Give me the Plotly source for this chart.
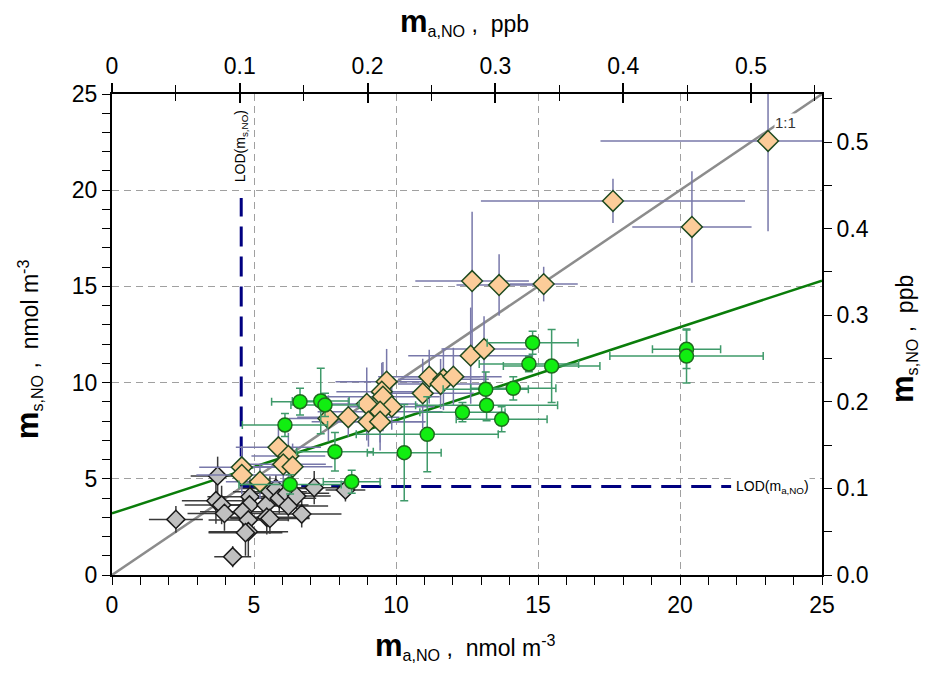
import plotly.graph_objects as go

# ---------------- data ----------------
# orange diamonds (above LOD, near 1:1)
orange_x = [23.1, 17.64, 20.42, 12.68, 13.63, 15.2, 12.63, 13.1, 11.17, 11.67, 11.57, 12.02, 10.94,
            9.67, 9.5, 9.54, 8.97, 9.85, 9.44, 9.03, 9.44, 7.62, 8.32, 5.86, 6.21, 6.03, 6.36,
            4.57, 4.57, 5.21]
orange_y = [22.56, 19.44, 18.09, 15.28, 15.07, 15.12, 11.4, 11.75, 10.31, 10.17, 9.93, 10.31, 9.44,
            10.05, 9.53, 9.27, 8.89, 8.75, 8.49, 7.97, 7.97, 8.14, 8.2, 6.64, 6.19, 5.75, 5.63,
            5.6, 5.2, 4.85]
orange_xerr = [5.9, 4.65, 2.1, 2.0, 1.5, 1.2, 2.2, 1.5, 1.8, 1.6, 1.5, 1.7, 1.8,
               1.8, 1.6, 2.0, 1.8, 1.5, 2.2, 2.0, 1.6, 1.4, 1.8, 1.5, 1.3, 1.5, 1.4,
               1.5, 1.6, 1.2]
orange_yerr = [4.7, 1.15, 2.9, 3.6, 1.6, 0.9, 2.5, 1.7, 1.4, 1.6, 1.3, 1.5, 1.8,
               1.7, 1.5, 1.8, 1.9, 1.2, 1.6, 1.3, 1.5, 1.2, 1.0, 1.0, 1.2, 1.0, 1.2,
               1.1, 1.0, 0.9]

# green circles
green_x = [6.09, 6.62, 7.35, 7.5, 7.85, 6.27, 8.44, 10.29, 11.1, 12.34, 13.19, 13.16, 13.72,
           14.13, 14.68, 14.81, 15.48, 20.23, 20.23]
green_y = [7.8, 9.01, 9.04, 8.84, 6.41, 4.71, 4.85, 6.36, 7.31, 8.46, 8.82, 9.65, 8.09,
           9.7, 10.97, 12.07, 10.86, 11.73, 11.38]
green_xerr = [1.5, 1.0, 1.0, 1.2, 1.35, 1.8, 1.0, 1.3, 2.5, 1.5, 2.5, 1.5, 1.6,
              1.5, 1.75, 1.6, 1.7, 1.2, 2.7]
green_yerr = [0.6, 0.7, 1.7, 0.6, 1.0, 0.5, 0.6, 2.5, 1.95, 0.5, 0.8, 0.9, 0.65,
              0.6, 0.4, 0.6, 1.9, 1.0, 1.4]

# gray diamonds (below LOD)
gray_x = [2.25, 3.72, 3.66, 3.86, 3.96, 4.25, 4.86, 4.84, 4.6, 4.8, 4.8, 4.7, 5.42, 5.56,
          5.77, 5.89, 6.15, 6.21, 6.5, 6.68, 5.45, 5.56, 7.12, 8.22]
gray_y = [2.89, 5.15, 3.86, 3.64, 3.2, 0.95, 4.07, 3.64, 3.29, 2.86, 2.25, 2.2, 3.64, 4.33,
          4.5, 3.99, 4.25, 3.59, 4.1, 3.17, 3.0, 2.94, 4.54, 4.42]
gray_xerr = [0.95, 0.95, 1.2, 1.3, 1.3, 0.65, 1.5, 1.4, 1.5, 1.4, 1.4, 1.3, 1.5, 1.3,
             1.2, 1.3, 1.5, 1.4, 1.2, 1.4, 1.5, 1.4, 0.8, 0.7]
gray_yerr = [0.7, 1.0, 1.2, 1.0, 0.9, 0.55, 0.9, 0.8, 0.9, 0.8, 1.3, 1.2, 0.8, 0.8,
             0.7, 0.8, 0.7, 0.8, 0.7, 0.7, 0.9, 0.8, 0.86, 0.6]

# reference lines
one_to_one_x = [0, 25]
one_to_one_y = [0, 25]
fit_x = [0, 25]
fit_y = [3.2, 15.3]
lod_s_x = [4.55, 4.55]
lod_s_y = [4.6, 19.6]
lod_a_x = [4.55, 21.8]
lod_a_y = [4.6, 4.6]

X_RANGE = [0, 25]
Y_RANGE = [0, 25]
NMOL_PER_PPB = 45.0
x_ticks = [0, 5, 10, 15, 20, 25]
ppb_ticks = [0, 0.1, 0.2, 0.3, 0.4, 0.5]

FONT = "Liberation Sans, Arial, sans-serif"

fig = go.Figure()

fig.add_trace(go.Scatter(x=one_to_one_x, y=one_to_one_y, mode="lines",
                         line=dict(color="#8c8c8c", width=2.5), showlegend=False, hoverinfo="skip"))
fig.add_trace(go.Scatter(x=fit_x, y=fit_y, mode="lines",
                         line=dict(color="#0a7d0a", width=2.5), showlegend=False, hoverinfo="skip"))
fig.add_trace(go.Scatter(x=lod_s_x, y=lod_s_y, mode="lines",
                         line=dict(color="#000080", width=3, dash="20px,10px"), showlegend=False))
fig.add_trace(go.Scatter(x=lod_a_x, y=lod_a_y, mode="lines",
                         line=dict(color="#000080", width=3, dash="20px,10px"), showlegend=False))

fig.add_trace(go.Scatter(
    x=gray_x, y=gray_y, mode="markers", showlegend=False,
    marker=dict(symbol="diamond", size=14, color="#c0c0c0", line=dict(color="#1a1a1a", width=1.5)),
    error_x=dict(type="data", array=gray_xerr, color="#3a3a3a", thickness=1.5, width=0),
    error_y=dict(type="data", array=gray_yerr, color="#3a3a3a", thickness=1.5, width=0)))

fig.add_trace(go.Scatter(
    x=orange_x, y=orange_y, mode="markers", showlegend=False,
    marker=dict(symbol="diamond", size=16, color="#fccc99", line=dict(color="#1f4a1f", width=1.5)),
    error_x=dict(type="data", array=orange_xerr, color="#7878aa", thickness=1.5, width=0),
    error_y=dict(type="data", array=orange_yerr, color="#7878aa", thickness=1.5, width=0)))

fig.add_trace(go.Scatter(
    x=green_x, y=green_y, mode="markers", showlegend=False,
    marker=dict(symbol="circle", size=14, color="#11ee11", line=dict(color="#1f6a1f", width=1.5)),
    error_x=dict(type="data", array=green_xerr, color="#3f9a6a", thickness=1.5, width=4),
    error_y=dict(type="data", array=green_yerr, color="#3f9a6a", thickness=1.5, width=4)))

# dummy traces for secondary axes
fig.add_trace(go.Scatter(x=[None], y=[None], xaxis="x2", yaxis="y2", showlegend=False))
fig.add_trace(go.Scatter(x=[None], y=[None], xaxis="x3", yaxis="y2", showlegend=False))

grid = dict(showgrid=True, gridcolor="#a0a0a0", gridwidth=1, griddash="7px,5px")
ticklab = dict(family=FONT, size=23, color="black")

fig.update_layout(
    width=928, height=675,
    margin=dict(l=112, r=106, t=94, b=100),
    paper_bgcolor="white", plot_bgcolor="white",
    showlegend=False,
    xaxis=dict(range=X_RANGE, tickvals=x_ticks, ticks="outside", ticklen=8, tickwidth=1.2,
               tickcolor="black", showline=True, linecolor="black", linewidth=2,
               minor=dict(dtick=1, ticks="outside", ticklen=8, tickcolor="black", tickwidth=1.2, showgrid=False),
               zeroline=False, tickfont=ticklab, **grid),
    yaxis=dict(range=Y_RANGE, tickvals=x_ticks, ticks="outside", ticklen=8, tickwidth=1.2,
               tickcolor="black", showline=True, linecolor="black", linewidth=2,
               minor=dict(dtick=1, ticks="outside", ticklen=8, tickcolor="black", tickwidth=1.2, showgrid=False),
               zeroline=False, tickfont=ticklab, **grid),
    xaxis2=dict(range=[X_RANGE[0] / NMOL_PER_PPB, X_RANGE[1] / NMOL_PER_PPB], overlaying="x", side="top",
                anchor="y", tickvals=ppb_ticks, ticktext=["0", "0.1", "0.2", "0.3", "0.4", "0.5"],
                ticks="outside", ticklen=9, tickwidth=1.5, tickcolor="black",
                minor=dict(dtick=0.05, tick0=0, ticks="outside", ticklen=7, tickcolor="black", tickwidth=1.2),
                showline=True, linecolor="black", linewidth=2, showgrid=False, zeroline=False,
                tickfont=ticklab),
    xaxis3=dict(range=[X_RANGE[0] / NMOL_PER_PPB, X_RANGE[1] / NMOL_PER_PPB], overlaying="x", side="top",
                anchor="y", tickvals=ppb_ticks, ticks="inside", ticklen=9, tickwidth=1.5, tickcolor="black",
                minor=dict(dtick=0.05, tick0=0, ticks="inside", ticklen=7, tickcolor="black", tickwidth=1.2),
                showticklabels=False, showline=False, showgrid=False, zeroline=False),
    yaxis2=dict(range=[Y_RANGE[0] / NMOL_PER_PPB, Y_RANGE[1] / NMOL_PER_PPB], overlaying="y", side="right",
                anchor="x", tickvals=ppb_ticks, tickformat=".1f",
                ticks="outside", ticklen=8, tickwidth=1.2, tickcolor="black",
                minor=dict(dtick=0.05, tick0=0, ticks="outside", ticklen=8, tickcolor="black", tickwidth=1.2),
                showline=True, linecolor="black", linewidth=2, showgrid=False, zeroline=False,
                tickfont=ticklab),
)

big = "<span style='font-size:31px'><b>m</b></span>"
title_font = dict(family=FONT, size=23, color="black")
annotations = [
    dict(text=big + "<sub>a,NO</sub> ,  nmol m<sup>-3</sup>", xref="paper", yref="paper",
         x=0.497, y=-0.148, showarrow=False, font=title_font, xanchor="center", yanchor="middle"),
    dict(text=big + "<sub>a,NO</sub> ,  ppb", xref="paper", yref="paper",
         x=0.497, y=1.15, showarrow=False, font=title_font, xanchor="center", yanchor="middle"),
    dict(text=big + "<sub>s,NO</sub> ,  nmol m<sup>-3</sup>", xref="paper", yref="paper",
         x=-0.118, y=0.47, showarrow=False, font=title_font, textangle=-90,
         xanchor="center", yanchor="middle"),
    dict(text=big + "<sub>s,NO</sub> ,  ppb", xref="paper", yref="paper",
         x=1.115, y=0.49, showarrow=False, font=title_font, textangle=-90,
         xanchor="center", yanchor="middle"),
    dict(text="1:1", x=23.7, y=23.5, xref="x", yref="y", showarrow=False,
         font=dict(family=FONT, size=15, color="#333333"), bgcolor="white", borderpad=0),
    dict(text="LOD(m<sub>s,NO</sub>)", x=4.55, y=22.3, xref="x", yref="y", showarrow=False,
         textangle=-90, font=dict(family=FONT, size=14, color="black"), bgcolor="white", borderpad=0),
    dict(text="LOD(m<sub>a,NO</sub>)", x=21.95, y=4.6, xref="x", yref="y", showarrow=False,
         xanchor="left", font=dict(family=FONT, size=14, color="black"), bgcolor="white", borderpad=0),
]
fig.update_layout(annotations=annotations)

fig.write_html("out.html")
